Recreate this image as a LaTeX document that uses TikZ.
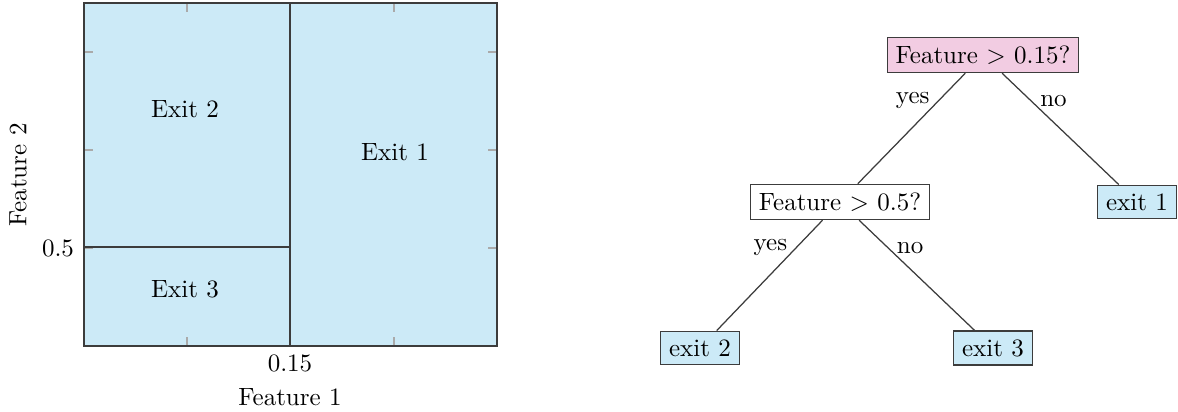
\documentclass[tikz,border=0pt]{standalone}
\usetikzlibrary{positioning}
\definecolor{regionblue}{RGB}{204,234,247}
\definecolor{rootpink}{RGB}{242,204,226}
\definecolor{framegray}{RGB}{60,60,60}
\definecolor{tickgray}{RGB}{170,170,170}
\begin{document}
\begin{tikzpicture}[x=0.4pt,y=-0.4pt,
  frame/.style={draw=framegray,line width=0.5pt},
  tickmark/.style={draw=tickgray,line width=0.5pt},
  treebox/.style={draw=framegray,rectangle,line width=0.5pt},
  leafbox/.style={treebox,fill=regionblue},
  edge/.style={draw=framegray,line width=0.5pt}]
\useasboundingbox (0,0) rectangle (1178,412);

% ---- partition of the feature space ----
\fill[regionblue] (84,3) rectangle (497,346);
\foreach \tx in {187,290,394} {
  \draw[tickmark] (\tx,346) -- (\tx,337);
  \draw[tickmark] (\tx,3) -- (\tx,12);
}
\foreach \ty in {52,150,248} {
  \draw[tickmark] (84,\ty) -- (93,\ty);
  \draw[tickmark] (497,\ty) -- (488,\ty);
}
\draw[frame] (84,3) rectangle (497,346);
\draw[frame] (290,3) -- (290,346);
\draw[frame] (84,247) -- (290,247);

\node (r2) at (185,109) {Exit 2};
\node (r1) at (395,152) {Exit 1};
\node (r3) at (185,289) {Exit 3};
\node (ytick) at (58,248) {0.5};
\node (xtick) at (290,363) {0.15};
\node (xlab) at (290,397) {Feature 1};
\node[rotate=90] (ylab) at (18,175) {Feature 2};

% ---- decision tree ----
\node[treebox,fill=rootpink] (root) at (983,55) {Feature $>$ 0.15?};
\node[treebox,fill=white] (mid) at (840,202) {Feature $>$ 0.5?};
\node[leafbox] (e1) at (1137,202) {exit 1};
\node[leafbox] (e2) at (700,348) {exit 2};
\node[leafbox] (e3) at (993,348) {exit 3};

\draw[edge] (root) -- node[near start,left] (ry) {yes} (mid);
\draw[edge] (root) -- node[near start,right] (rn) {no} (e1);
\draw[edge] (mid) -- node[near start,left] (my) {yes} (e2);
\draw[edge] (mid) -- node[near start,right] (mn) {no} (e3);
\end{tikzpicture}
\end{document}
